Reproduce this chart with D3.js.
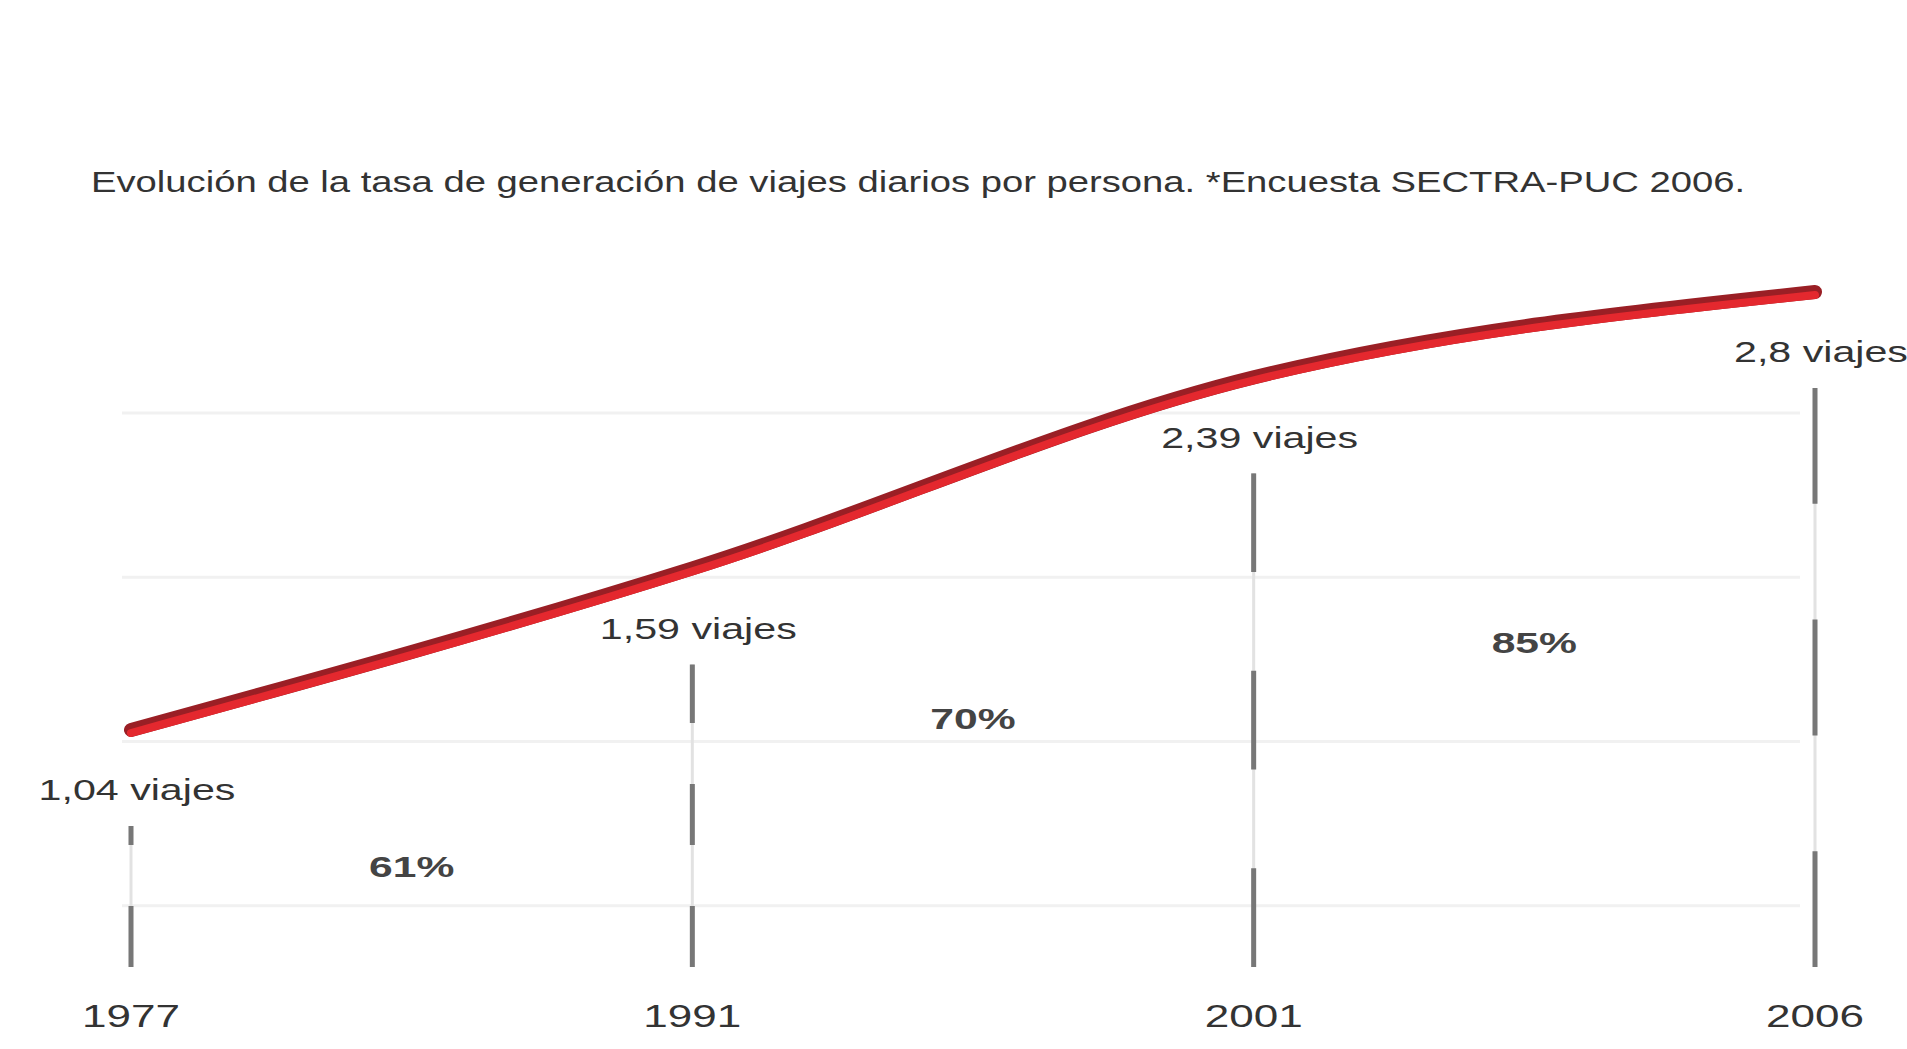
<!DOCTYPE html>
<html>
<head>
<meta charset="utf-8">
<script src="https://cdn.jsdelivr.net/npm/d3@7"></script>
<style>
  body { margin: 0; background: #fff; }
  text { font-family: "Liberation Sans", Arial, sans-serif; fill: #333; }
</style>
</head>
<body>
<svg id="chart"></svg>
<script>
const years = ["1977", "1991", "2001", "2006"];
const tripsPerPerson = [1.04, 1.59, 2.39, 2.8];
const tripLabels = ["1,04 viajes", "1,59 viajes", "2,39 viajes", "2,8 viajes"];
const growthLabels = ["61%", "70%", "85%"];
const gridRows = [1, 2, 3, 4];
const titleText = "Evolución de la tasa de generación de viajes diarios por persona. *Encuesta SECTRA-PUC 2006.";

const svgWidth = 1907, svgHeight = 1049;
const stretch = 1.42; // the original picture is squeezed wide

const svg = d3.select("#chart")
  .attr("width", svgWidth)
  .attr("height", svgHeight);

const x = d3.scalePoint()
  .domain(years)
  .range([131, 1815]);

const y = d3.scaleSqrt()
  .domain([1.04, 2.8])
  .range([730, 292]);

const row = d3.scaleLinear()
  .domain([0, 4])
  .range([1070, 413]);

const bottom = 967;

// widen text like in the source picture
function widen(sel) {
  sel.each(function () {
    const w = this.getComputedTextLength();
    d3.select(this)
      .attr("textLength", w * stretch)
      .attr("lengthAdjust", "spacingAndGlyphs");
  });
}

// title
svg.append("text")
  .attr("x", 91)
  .attr("y", 192)
  .attr("font-size", 29)
  .attr("textLength", 1654)
  .attr("lengthAdjust", "spacingAndGlyphs")
  .text(titleText);

// faint grid
svg.append("g")
  .selectAll("line")
  .data(gridRows)
  .join("line")
  .attr("x1", 122)
  .attr("x2", 1800)
  .attr("y1", d => row(d))
  .attr("y2", d => row(d))
  .attr("stroke", "#f1f1f1")
  .attr("stroke-width", 3);

const pts = years.map((yr, i) => ({ year: yr, value: tripsPerPerson[i], label: tripLabels[i] }));

// vertical guides
const guideTop = d => y(d.value) + 96;
const dash = d => Math.max((bottom - guideTop(d)) / 5, 61);
const guides = svg.append("g");
guides.selectAll("line.light")
  .data(pts)
  .join("line")
  .attr("class", "light")
  .attr("x1", d => x(d.year))
  .attr("x2", d => x(d.year))
  .attr("y1", bottom)
  .attr("y2", guideTop)
  .attr("stroke", "#e2e2e2")
  .attr("stroke-width", 3);
guides.selectAll("line.dark")
  .data(pts)
  .join("line")
  .attr("class", "dark")
  .attr("x1", d => x(d.year))
  .attr("x2", d => x(d.year))
  .attr("y1", bottom)
  .attr("y2", guideTop)
  .attr("stroke", "#777")
  .attr("stroke-width", 5)
  .attr("stroke-dasharray", d => `${dash(d)},${dash(d)}`);

// red line
const line = d3.line()
  .x(d => x(d.year))
  .y(d => y(d.value))
  .curve(d3.curveMonotoneX);

svg.append("path")
  .datum(pts)
  .attr("fill", "none")
  .attr("stroke", "#9a1f25")
  .attr("stroke-width", 14)
  .attr("stroke-linecap", "round")
  .attr("d", line);

svg.append("path")
  .datum(pts)
  .attr("fill", "none")
  .attr("stroke", "#e4282e")
  .attr("stroke-width", 8)
  .attr("stroke-linecap", "round")
  .attr("transform", "translate(0,3)")
  .attr("d", line);

// value labels
svg.append("g")
  .selectAll("text")
  .data(pts)
  .join("text")
  .attr("x", d => x(d.year) + 6)
  .attr("y", d => y(d.value) + 60)
  .attr("dy", "0.35em")
  .attr("text-anchor", "middle")
  .attr("font-size", 29)
  .text(d => d.label)
  .call(widen);

// growth between surveys
const pctRows = [1.24, 2.14, 2.6];
svg.append("g")
  .selectAll("text")
  .data(growthLabels)
  .join("text")
  .attr("x", (d, i) => (x(years[i]) + x(years[i + 1])) / 2)
  .attr("y", (d, i) => row(pctRows[i]))
  .attr("dy", "0.35em")
  .attr("text-anchor", "middle")
  .attr("font-size", 30)
  .attr("font-weight", "bold")
  .style("fill", "#444")
  .text(d => d)
  .call(widen);

// years
svg.append("g")
  .selectAll("text")
  .data(years)
  .join("text")
  .attr("x", d => x(d))
  .attr("y", 1016)
  .attr("dy", "0.35em")
  .attr("text-anchor", "middle")
  .attr("font-size", 31)
  .text(d => d)
  .call(widen);
</script>
</body>
</html>
